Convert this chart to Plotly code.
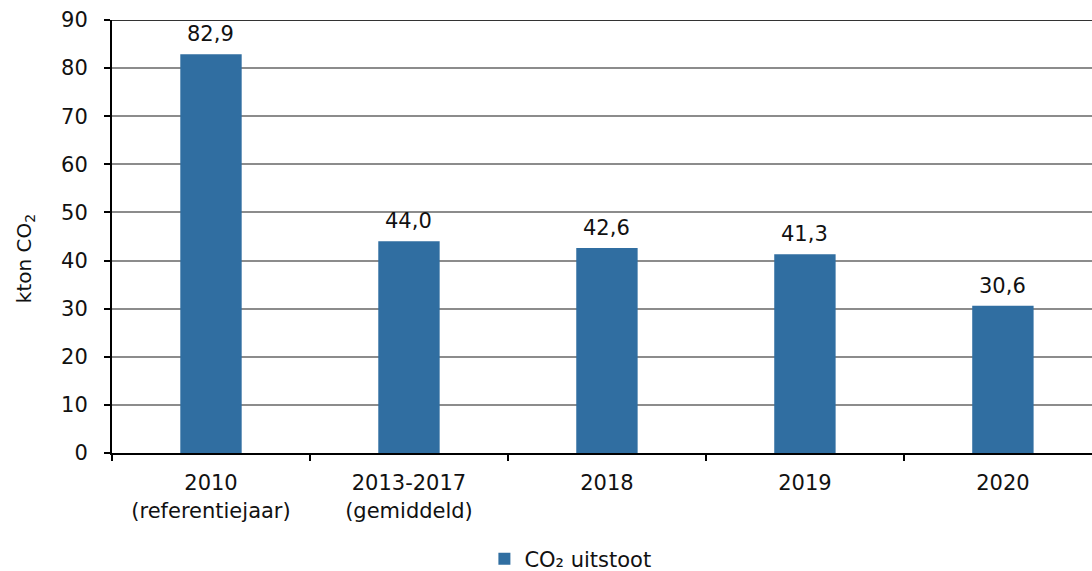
import plotly.graph_objects as go

categories = ["2010<br>(referentiejaar)", "2013-2017<br>(gemiddeld)", "2018", "2019", "2020"]
values = [82.9, 44.0, 42.6, 41.3, 30.6]
labels = ["82,9", "44,0", "42,6", "41,3", "30,6"]
series_name = "CO₂ uitstoot"
y_ticks = [0, 10, 20, 30, 40, 50, 60, 70, 80, 90]

FONT = "DejaVu Sans, Verdana, sans-serif"
BAR = "#306ea1"
FS = 21

fig = go.Figure()
fig.add_trace(go.Bar(
    x=categories, y=values, name=series_name,
    marker=dict(color=BAR, line=dict(width=0)),
    width=0.31, showlegend=True,
))

for i, (v, t) in enumerate(zip(values, labels)):
    fig.add_annotation(x=i, y=v, text=t, showarrow=False, yanchor="bottom",
                       yshift=6, font=dict(family=FONT, size=FS, color="#111111"))

fig.add_shape(type="line", xref="paper", yref="y", x0=0, x1=1, y0=90, y1=90,
              line=dict(color="#333333", width=2), layer="above")

fig.add_annotation(text="kton CO<sub>2</sub>", xref="paper", yref="paper",
                   x=-0.0888, xanchor="center", y=0.45, yanchor="middle",
                   textangle=-90, showarrow=False,
                   font=dict(family=FONT, size=20, color="#111111"))

fig.update_layout(
    width=1092, height=571,
    margin=dict(l=112, r=0, t=20, b=118, autoexpand=False),
    paper_bgcolor="white", plot_bgcolor="white",
    font=dict(family=FONT, size=FS, color="#111111"),
    legend=dict(orientation="h", x=0.380, xanchor="left", y=-0.245, yanchor="middle",
                font=dict(family=FONT, size=FS, color="#111111"),
                itemwidth=30, traceorder="normal"),
    xaxis=dict(
        type="category", range=[-0.5, 4.45],
        tickson="boundaries", ticks="outside", ticklen=6, tickwidth=2, tickcolor="black",
        showline=True, linecolor="black", linewidth=2,
        showgrid=False, ticklabelstandoff=10,
        tickfont=dict(family=FONT, size=FS, color="#111111"),
    ),
    yaxis=dict(
        range=[0, 90], tickvals=y_ticks,
        ticks="outside", ticklen=6, tickwidth=2, tickcolor="black",
        showline=True, linecolor="black", linewidth=2,
        showgrid=True, gridcolor="#8c8c8c", gridwidth=2,
        zeroline=False, ticklabelstandoff=12,
        tickfont=dict(family=FONT, size=FS, color="#111111"),
    ),
)

fig.write_html("out.html")
